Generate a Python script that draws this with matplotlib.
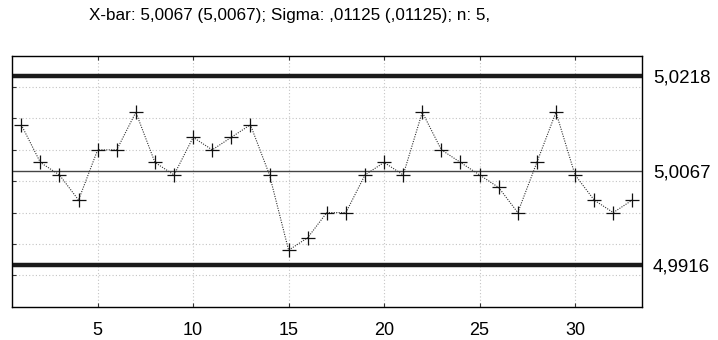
import matplotlib.pyplot as plt
import numpy as np

plt.rcParams['font.family'] = ['Liberation Sans', 'DejaVu Sans']

# sample means (X-bar chart)
samples = list(range(1, 34))
means = [5.014, 5.008, 5.006, 5.002, 5.010, 5.010, 5.016, 5.008, 5.006, 5.012,
         5.010, 5.012, 5.014, 5.006, 4.994, 4.996, 5.000, 5.000, 5.006, 5.008,
         5.006, 5.016, 5.010, 5.008, 5.006, 5.004, 5.000, 5.008, 5.016, 5.006,
         5.002, 5.000, 5.002]
ucl, center, lcl = 5.0218, 5.0067, 4.9916
limit_labels = ['5,0218', '5,0067', '4,9916']
x_ticks = [5, 10, 15, 20, 25, 30]
y_grid = [4.99, 4.995, 5.0, 5.005, 5.01, 5.015, 5.02]
title = 'X-bar: 5,0067 (5,0067); Sigma: ,01125 (,01125); n: 5,'

fig = plt.figure(figsize=(7.18, 3.4), dpi=100)
ax = fig.add_axes([0.0163, 0.098, 0.8777, 0.738])

ax.axhline(ucl, color='#1a1a1a', lw=3.2, zorder=3)
ax.axhline(lcl, color='#1a1a1a', lw=3.2, zorder=3)
ax.axhline(center, color='#444444', lw=1.0, zorder=3)
ax.plot(samples, means, color='#333333', lw=0.8, ls=(0, (1, 1.2)),
        marker='+', ms=10, mew=0.9, mec='#111111', zorder=4)

ax.set_xlim(0.5, 33.5)
ax.set_ylim(4.985, 5.025)
ax.set_xticks(x_ticks)
ax.set_xticklabels([str(t) for t in x_ticks], fontsize=13)
ax.set_yticks(y_grid)
ax.set_yticklabels([])
ax.tick_params(axis='both', direction='in', length=3, color='#333333',
               top=True, right=True, left=True, bottom=True)
ax.tick_params(axis='x', pad=11)
ax.grid(True, color='#c4c4c4', ls=(0, (1, 2)), lw=0.8)
for s in ax.spines.values():
    s.set_color('#333333')
    s.set_linewidth(1.0)

ax2 = ax.twinx()
ax2.set_ylim(ax.get_ylim())
ax2.set_yticks([ucl, center, lcl])
ax2.set_yticklabels(limit_labels, fontsize=13.5)
ax2.tick_params(axis='y', length=0, pad=8)

fig.text(0.403, 0.955, title, ha='center', va='center', fontsize=12.3)

fig.savefig('out.png', dpi=100)
